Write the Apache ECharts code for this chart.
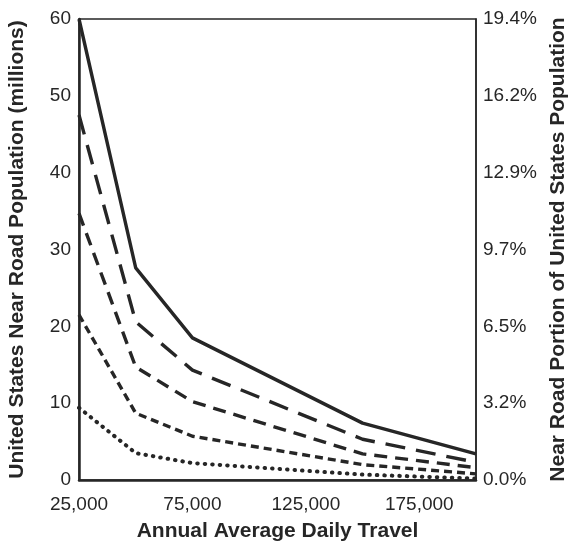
<!DOCTYPE html>
<html>
<head>
<meta charset="utf-8">
<script src="https://cdn.jsdelivr.net/npm/echarts@6/dist/echarts.min.js"></script>
<style>
  html, body { margin: 0; padding: 0; background: #fff; }
  #chart { width: 572px; height: 547px; }
</style>
</head>
<body>
<div id="chart"></div>
<script>
// traffic volume break points (AADT)
const aadt = [25000, 50000, 75000, 150000, 200000];

// near road population, millions - one line per buffer distance
const line1 = [60, 27.6, 18.5, 7.4, 3.4];
const line2 = [47.5, 20.6, 14.3, 5.3, 2.3];
const line3 = [34.7, 14.7, 10.2, 3.4, 1.6];
const line4 = [21.5, 8.7, 5.7, 2.0, 0.8];
const line5 = [9.4, 3.5, 2.2, 0.7, 0.2];

const rightTicks = ['0.0%', '3.2%', '6.5%', '9.7%', '12.9%', '16.2%', '19.4%'];

const ink = '#262626';
const font = 'Liberation Sans, Arial, sans-serif';

function pairs(vals) {
  return aadt.map((x, i) => [x, vals[i]]);
}

function mkLine(vals, dash, w, cap) {
  return {
    type: 'line',
    data: pairs(vals),
    symbol: 'none',
    smooth: false,
    yAxisIndex: 0,
    lineStyle: { color: ink, width: w, type: dash, cap: cap || 'butt' }
  };
}

const chart = echarts.init(document.getElementById('chart'));

const titleStyle = { color: ink, fontSize: 21, fontWeight: 'bold', fontFamily: font };

const option = {
  animation: false,
  textStyle: { fontFamily: font },
  grid: {
    left: 79, right: 96, top: 19, bottom: 67,
    outerBoundsMode: 'none',
    show: true, borderColor: ink, borderWidth: 1.5
  },
  xAxis: {
    type: 'value',
    min: 25000, max: 200000, interval: 50000,
    name: 'Annual Average Daily Travel',
    nameLocation: 'middle',
    nameGap: 41,
    nameTextStyle: titleStyle,
    axisLine: { show: true, lineStyle: { color: ink, width: 2.5 } },
    axisTick: { show: false },
    splitLine: { show: false },
    axisLabel: {
      color: ink, fontSize: 19, margin: 15, fontFamily: font,
      showMaxLabel: false,
      formatter: v => v.toLocaleString('en-US')
    }
  },
  yAxis: [
    {
      type: 'value',
      min: 0, max: 60, interval: 10,
      position: 'left',
      name: 'United States Near Road Population (millions)',
      nameLocation: 'middle',
      nameRotate: 90,
      nameGap: 51,
      nameTextStyle: titleStyle,
      axisLine: { show: true, lineStyle: { color: ink, width: 2.5 } },
      axisTick: { show: false },
      splitLine: { show: false },
      axisLabel: { color: ink, fontSize: 19, margin: 8, fontFamily: font }
    },
    {
      type: 'value',
      min: 0, max: 60, interval: 10,
      position: 'right',
      name: 'Near Road Portion of United States Population',
      nameLocation: 'middle',
      nameRotate: 90,
      nameGap: 68,
      nameTextStyle: titleStyle,
      axisLine: { show: true, lineStyle: { color: ink, width: 1.5 } },
      axisTick: { show: false },
      splitLine: { show: false },
      axisLabel: {
        color: ink, fontSize: 19, margin: 7, fontFamily: font,
        formatter: v => rightTicks[Math.round(v / 10)]
      }
    }
  ],
  series: [
    mkLine(line1, 'solid', 3.4),
    mkLine(line2, [20, 11], 3.4),
    mkLine(line3, [13, 8], 3.4),
    mkLine(line4, [8, 5], 3.4),
    mkLine(line5, [0.5, 7], 4, 'round')
  ]
};

chart.setOption(option);
</script>
</body>
</html>
